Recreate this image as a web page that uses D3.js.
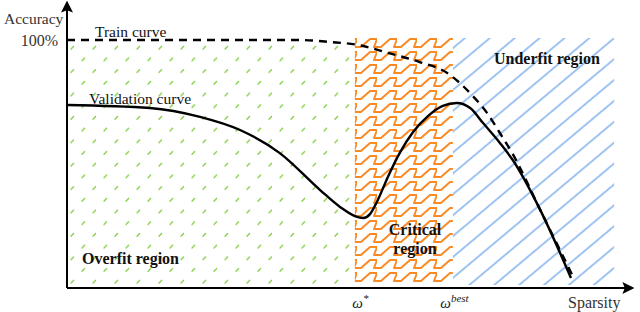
<!DOCTYPE html>
<html>
<head>
<meta charset="utf-8">
<script src="https://cdn.jsdelivr.net/npm/d3@7"></script>
<style>
  body { margin: 0; background: #fff; }
  svg { display: block; font-family: "Liberation Serif", "DejaVu Serif", serif; }
</style>
</head>
<body>
<div id="chart"></div>
<script>
// sparsity (0-100) vs accuracy (0-100)
const trainX = [0, 23.75, 41.6, 47, 52, 57.3, 63, 67.9, 72.3, 75, 77.3, 79.5, 84.5, 90.4];
const trainY = [100, 100, 100, 99.2, 98, 94.8, 91.1, 86.7, 77.8, 70.6, 62.5, 54.4, 31.5, 4.4];

const validX = [0, 14.8, 23.75, 30.9, 38, 45.2, 48.75, 51.4, 52.9, 54.1, 55.5, 57.3, 59.5, 61.8, 64.5, 67.1, 69.6, 72, 74.3, 77.3, 79.6, 84.5, 90];
const validY = [73.8, 72.6, 69, 63.7, 54.4, 39.5, 32.7, 29, 28.2, 29.8, 35.5, 44.8, 54.8, 62.9, 69.4, 73.4, 74.6, 72.6, 66.5, 58.5, 51.6, 31.5, 4];

// regions [start, end] along sparsity
const regionNames = ["overfit", "critical", "underfit"];
const regionStart = [0, 51.4, 68.9];
const regionEnd = [51.4, 68.9, 97.7];

const xTickValues = [52.3, 69.1];
const xTickLabels = [["ω", "*"], ["ω", "best"]];
const yTickValues = [100];
const yTickLabels = ["100%"];

const width = 640, height = 312;

const x = d3.scaleLinear().domain([0, 100]).range([67, 627]);
const y = d3.scaleLinear().domain([0, 100]).range([288, 40]);

const svg = d3.select("#chart").append("svg")
  .attr("width", width)
  .attr("height", height);

const defs = svg.append("defs");

// green: short diagonal dashes
const green = defs.append("pattern")
  .attr("id", "overfit")
  .attr("patternUnits", "userSpaceOnUse")
  .attr("x", 67).attr("y", 40)
  .attr("width", 22).attr("height", 23.4);
[[4, 9], [15, 20.7]].forEach(([cx, cy]) => {
  green.append("line")
    .attr("x1", cx).attr("y1", cy)
    .attr("x2", cx + 2.6).attr("y2", cy - 2.6)
    .attr("stroke", "#7fcf3f")
    .attr("stroke-width", 1.3)
    .attr("stroke-linecap", "round");
});

// orange: zigzag rows
const orange = defs.append("pattern")
  .attr("id", "critical")
  .attr("patternUnits", "userSpaceOnUse")
  .attr("x", 357).attr("y", 37)
  .attr("width", 20).attr("height", 13);
orange.append("path")
  .attr("d", "M-3,10 L4,10 L13,2 L20,2 L17,10 L24,10")
  .attr("fill", "none")
  .attr("stroke", "#fb8a24")
  .attr("stroke-width", 2)
  .attr("stroke-linejoin", "round");

// blue: thin hatching
const blue = defs.append("pattern")
  .attr("id", "underfit")
  .attr("patternUnits", "userSpaceOnUse")
  .attr("width", 10).attr("height", 16)
  .attr("patternTransform", "rotate(-40)");
blue.append("line")
  .attr("x1", 0).attr("y1", 8)
  .attr("x2", 10).attr("y2", 8)
  .attr("stroke", "#4f93e6")
  .attr("stroke-width", 1.1);

svg.append("g")
  .selectAll("rect")
  .data(regionNames)
  .join("rect")
  .attr("x", (d, i) => x(regionStart[i]))
  .attr("y", y(100) - 2)
  .attr("width", (d, i) => x(regionEnd[i]) - x(regionStart[i]))
  .attr("height", (d, i) => y(0) - y(100) - 1)
  .attr("fill", d => `url(#${d})`);

// curves
const line = d3.line().curve(d3.curveMonotoneX);

svg.append("path")
  .datum(trainX.map((v, i) => [x(v), y(trainY[i])]))
  .attr("d", line)
  .attr("fill", "none")
  .attr("stroke", "#000")
  .attr("stroke-width", 2.4)
  .attr("stroke-dasharray", "8,6");

svg.append("path")
  .datum(validX.map((v, i) => [x(v), y(validY[i])]))
  .attr("d", line)
  .attr("fill", "none")
  .attr("stroke", "#000")
  .attr("stroke-width", 2.4);

// axes with arrows
defs.append("marker")
  .attr("id", "arrow")
  .attr("viewBox", "0 0 10 10")
  .attr("refX", 8).attr("refY", 5)
  .attr("markerWidth", 6).attr("markerHeight", 6)
  .attr("orient", "auto")
  .append("path")
  .attr("d", "M0,0 L10,5 L0,10 L2,5 Z")
  .attr("fill", "#000");

svg.append("line")
  .attr("x1", x(0)).attr("y1", y(0))
  .attr("x2", 632).attr("y2", y(0))
  .attr("stroke", "#000").attr("stroke-width", 2)
  .attr("marker-end", "url(#arrow)");

svg.append("line")
  .attr("x1", x(0)).attr("y1", y(0))
  .attr("x2", x(0)).attr("y2", 3)
  .attr("stroke", "#000").attr("stroke-width", 2)
  .attr("marker-end", "url(#arrow)");

const xAxis = svg.append("g")
  .attr("transform", `translate(0,${y(0)})`)
  .call(d3.axisBottom(x).tickValues(xTickValues).tickSize(0).tickPadding(9).tickFormat(""));
xAxis.select(".domain").remove();
xAxis.selectAll(".tick text")
  .attr("font-family", "Liberation Serif, serif")
  .attr("font-size", 15)
  .attr("fill", "#222")
  .each(function (d, i) {
    const t = d3.select(this);
    t.append("tspan").attr("font-style", "italic").text(xTickLabels[i][0]);
    t.append("tspan").attr("font-size", 11).attr("font-style", "italic")
      .attr("dy", "-0.5em").text(xTickLabels[i][1]);
  });

const yAxis = svg.append("g")
  .attr("transform", `translate(${x(0)},0)`)
  .call(d3.axisLeft(y).tickValues(yTickValues).tickSize(0).tickPadding(9).tickFormat((d, i) => yTickLabels[i]));
yAxis.select(".domain").remove();
yAxis.selectAll(".tick text")
  .attr("font-family", "Liberation Serif, serif")
  .attr("font-size", 16)
  .attr("fill", "#333");

// labels
const label = (tx, ty, text, opts = {}) => svg.append("text")
  .attr("x", tx).attr("y", ty)
  .attr("font-size", opts.size || 16)
  .attr("font-weight", opts.bold ? "bold" : "normal")
  .attr("text-anchor", opts.anchor || "start")
  .attr("fill", opts.fill || "#111")
  .text(text);

label(4, 24, "Accuracy", { fill: "#333", size: 15.5 });
label(568, 308, "Sparsity", { fill: "#333" });
label(95, 37, "Train curve", { size: 15.5 });
label(89, 104, "Validation curve", { size: 15.5 });
label(82, 264, "Overfit region", { bold: true });
label(494, 64, "Underfit region", { bold: true });
label(415, 235, "Critical", { bold: true, anchor: "middle" });
label(415, 254, "region", { bold: true, anchor: "middle" });
</script>
</body>
</html>
